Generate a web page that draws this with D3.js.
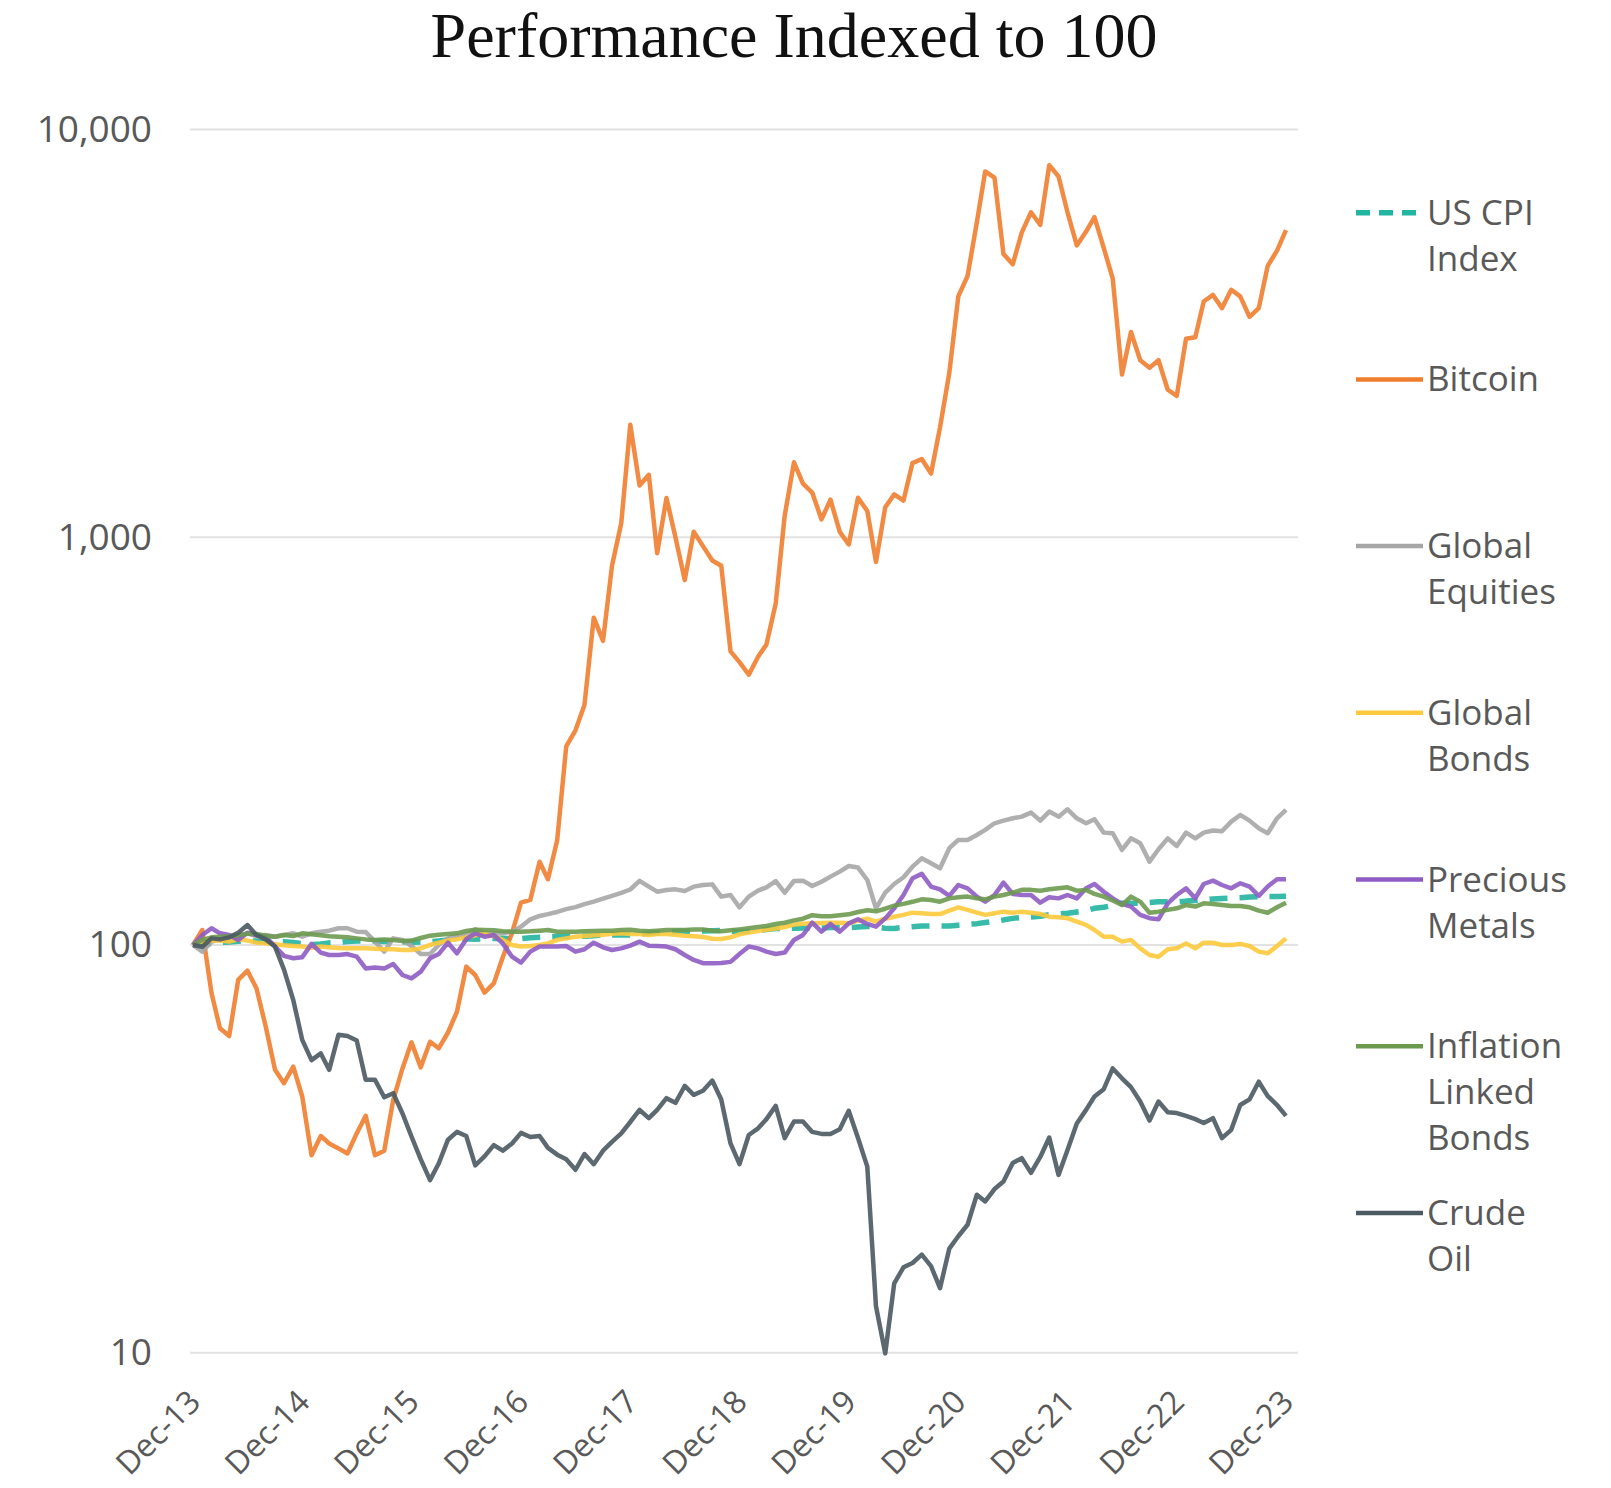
<!DOCTYPE html>
<html>
<head>
<meta charset="utf-8">
<script src="https://cdn.jsdelivr.net/npm/d3@7"></script>
<style>
  body { margin: 0; background: #fff; }
  svg { display: block; }
</style>
</head>
<body>
<svg id="chart" width="1611" height="1488"></svg>
<script>
// Monthly index values, Dec-13 = 100 (121 months, Dec-13 .. Dec-23)
const startMonth = new Date(2013, 11, 1);
const tickLabels = ["Dec-13", "Dec-14", "Dec-15", "Dec-16", "Dec-17", "Dec-18",
  "Dec-19", "Dec-20", "Dec-21", "Dec-22", "Dec-23"];
const yTicks = [10, 100, 1000, 10000];

const usCpi = [
  100.0, 100.4, 100.8, 101.4, 101.7, 102.1, 102.2, 102.2, 102.0, 102.1,
  101.9, 101.4, 100.8, 100.2, 100.6, 101.2, 101.4, 101.9, 102.3, 102.3,
  102.2, 102.0, 101.9, 101.8, 101.5, 101.7, 101.8, 102.3, 102.8, 103.2,
  103.5, 103.3, 103.4, 103.7, 103.8, 103.6, 103.6, 104.2, 104.5, 104.6,
  104.9, 105.0, 105.1, 105.0, 105.3, 105.9, 105.8, 105.8, 105.8, 106.4,
  106.9, 107.1, 107.5, 107.9, 108.1, 108.1, 108.2, 108.3, 108.5, 108.1,
  107.8, 108.0, 108.5, 109.1, 109.7, 109.9, 109.9, 110.1, 110.0, 110.1,
  110.4, 110.3, 110.3, 110.7, 111.0, 110.7, 109.9, 109.8, 110.4, 110.9,
  111.3, 111.4, 111.4, 111.3, 111.8, 112.3, 112.8, 113.5, 114.4, 115.2,
  116.2, 116.8, 117.1, 117.6, 118.6, 119.1, 119.6, 120.5, 121.4, 123.0,
  123.7, 125.0, 126.6, 126.6, 126.5, 127.1, 127.6, 127.7, 127.4, 128.1,
  128.6, 129.0, 129.7, 130.0, 130.3, 130.5, 131.1, 131.4, 131.5, 131.4,
  131.6
];

const bitcoin = [
  100, 108.8, 76.1, 62.5, 59.8, 82.1, 86.5, 78.3, 63.1, 49.4,
  45.8, 50.3, 42.5, 30.5, 34.0, 32.6, 31.7, 30.8, 34.5, 38.1,
  30.5, 31.3, 41.7, 49.8, 57.7, 50.1, 57.9, 55.8, 61.0, 68.6,
  88.5, 84.4, 76.4, 80.5, 93.3, 107, 127, 129, 160, 145,
  181, 307, 336, 388, 635, 557, 851, 1084, 1888, 1340,
  1423, 914, 1248, 1000, 785, 1031, 951, 877, 851, 525,
  494, 460, 509, 546, 688, 1129, 1527, 1353, 1287, 1106,
  1236, 1031, 960, 1250, 1160, 870, 1185, 1274, 1230, 1520,
  1555, 1433, 1860, 2529, 3896, 4373, 5918, 7892, 7624, 4949,
  4672, 5585, 6266, 5833, 8175, 7670, 6266, 5196, 5620, 6094,
  5124, 4311, 2507, 3186, 2717, 2603, 2717, 2300, 2222, 3068,
  3094, 3786, 3929, 3647, 4045, 3896, 3472, 3647, 4631, 5047,
  5666
];

const globalEquities = [
  100, 96.3, 101.9, 102.9, 103.8, 105.2, 106.8, 105.2, 105.8, 104.8,
  105.8, 106.8, 104.8, 106.8, 107.8, 108.4, 109.9, 109.9, 107.8, 107.6,
  101.9, 96.3, 103.8, 102.9, 99.4, 95.0, 95.0, 100, 103.8, 105.2,
  105.8, 109.2, 107.2, 106.8, 106.8, 107.8, 110.9, 115.6, 117.8, 119.0,
  120.5, 122.4, 123.8, 125.9, 127.7, 129.9, 132.0, 134.2, 136.8, 143.6,
  139.0, 135.1, 136.4, 136.9, 135.6, 139.0, 140.3, 140.8, 131.4, 132.6,
  123.7, 131.4, 135.9, 138.5, 143.5, 134.4, 143.5, 143.8, 139.5, 142.9,
  147.1, 151.3, 156.2, 154.8, 144.3, 123.0, 134.4, 141.1, 146.6, 155.6,
  163.1, 158.6, 154.2, 172.7, 181.0, 181.0, 186.1, 191.5, 198.8, 201.8,
  204.5, 206.4, 211.2, 201.8, 212.4, 206.4, 215.1, 204.5, 198.8, 203.3,
  188.6, 187.9, 171.0, 182.6, 177.6, 160.1, 171.7, 182.6, 174.9, 188.6,
  182.6, 188.6, 190.8, 190.0, 200.7, 208.4, 201.8, 193.2, 187.9, 204.5,
  214.4
];

const globalBonds = [
  100, 101.9, 102.5, 102.5, 101.9, 103.2, 102.5, 101.3, 100.9, 100.4,
  99.8, 99.4, 99.1, 98.5, 99.1, 98.7, 98.3, 98.1, 98.1, 98.1,
  97.9, 97.6, 97.6, 97.2, 97.2, 98.1, 100, 101.3, 102.5, 103.2,
  104.4, 105.6, 106.4, 105.2, 102.9, 100, 99.1, 99.4, 100, 100.9,
  102.9, 103.8, 104.8, 105.2, 105.6, 106.0, 106.6, 106.8, 106.4, 106.4,
  105.8, 106.4, 106.4, 106.0, 105.4, 105.0, 104.6, 103.6, 103.4, 104.4,
  106.2, 107.2, 108.2, 109.0, 109.7, 110.7, 112.2, 112.8, 113.0, 113.2,
  113.4, 113.4, 113.0, 114.7, 116.0, 114.1, 116.0, 117.3, 118.5, 120.0,
  119.6, 119.1, 119.1, 121.4, 123.7, 121.9, 120.0, 118.5, 119.6, 120.7,
  120.0, 120.7, 120.0, 119.1, 117.3, 116.9, 116.3, 114.1, 112.0, 108.8,
  104.8, 104.8, 101.9, 102.9, 98.1, 94.5, 93.6, 97.6, 98.1, 100.9,
  98.1, 101.3, 101.3, 100, 100, 100.6, 99.4, 96.3, 95.4, 99.4,
  103.8
];

const preciousMetals = [
  100, 105.8, 109.9, 106.8, 105.8, 102.9, 107.2, 105.8, 104.8, 99.1,
  94.0, 92.8, 93.3, 100.6, 95.8, 94.5, 94.5, 95.0, 93.6, 87.6,
  88.1, 87.6, 89.8, 84.4, 82.8, 86.0, 92.8, 95.0, 101.3, 95.4,
  103.3, 106.8, 104.8, 105.8, 100.9, 93.6, 90.5, 96.3, 99.1, 99.1,
  99.1, 99.4, 96.3, 97.6, 101.3, 98.7, 97.2, 98.1, 99.6, 101.9,
  99.6, 99.4, 99.1, 97.6, 94.5, 91.9, 90.2, 90.2, 90.3, 90.9,
  95.0, 99.1, 98.1, 96.3, 95.0, 95.8, 102.9, 105.8, 113.4, 107.8,
  112.6, 107.8, 113.0, 115.6, 112.6, 110.9, 116.2, 123.0, 132.6, 145.8,
  149.4, 139.1, 136.9, 131.9, 140.3, 137.7, 131.4, 127.7, 132.6, 142.2,
  133.4, 132.6, 132.6, 127.0, 130.9, 130.1, 132.6, 130.1, 137.7, 141.1,
  135.1, 130.1, 126.1, 124.2, 118.5, 116.3, 115.6, 126.5, 132.6, 137.7,
  130.1, 141.1, 143.8, 140.3, 137.7, 141.7, 139.1, 131.9, 139.1, 144.9,
  144.9
];

const inflationLinked = [
  100, 102.9, 104.4, 104.8, 105.0, 105.6, 106.6, 106.4, 105.4, 104.8,
  105.8, 105.2, 106.8, 106.2, 105.6, 105.0, 104.8, 104.4, 103.8, 103.2,
  102.9, 103.2, 102.9, 102.3, 102.5, 104.0, 105.4, 106.0, 106.4, 106.8,
  108.2, 109.0, 108.8, 108.6, 108.0, 107.8, 107.8, 108.0, 108.4, 108.8,
  107.8, 107.8, 107.8, 108.0, 108.2, 108.4, 108.4, 108.8, 109.0, 108.4,
  108.0, 108.4, 108.8, 108.8, 108.8, 109.2, 109.2, 108.4, 108.0, 108.6,
  109.2, 109.9, 110.7, 111.3, 112.6, 113.4, 114.9, 116.0, 118.3, 117.6,
  117.6, 118.2, 118.9, 120.5, 121.6, 120.9, 122.7, 124.9, 126.1, 127.6,
  129.4, 128.9, 127.7, 130.1, 130.9, 131.4, 130.1, 129.4, 131.4, 132.6,
  134.4, 136.5, 136.5, 135.9, 136.9, 137.7, 138.5, 135.9, 136.5, 133.4,
  131.4, 128.5, 125.3, 131.4, 127.7, 120.0, 120.7, 121.9, 123.0, 125.3,
  124.2, 126.5, 126.1, 125.3, 124.6, 124.6, 123.7, 121.4, 120.0, 123.7,
  127.0
];

const crudeOil = [
  100, 99, 103.8, 103.2, 104.4, 107.2, 111.9, 105.8, 103.2, 99.1,
  87, 73.3, 58.5, 52.2, 54.2, 49.4, 60.2, 59.8, 58.3, 46.7,
  46.7, 42.3, 43.3, 38.6, 33.9, 29.8, 26.5, 29.1, 33.3, 34.8,
  34.0, 28.8, 30.3, 32.3, 31.3, 32.6, 34.6, 33.8, 34.0, 31.8,
  30.6, 29.8, 28.1, 30.7, 29.0, 31.3, 32.9, 34.5, 36.8, 39.4,
  37.6, 39.4, 42.1, 41.0, 45.1, 42.9, 43.9, 46.5, 41.8, 32.6,
  29.0, 34.2, 35.5, 37.4, 40.3, 33.6, 36.9, 36.9, 34.8, 34.4,
  34.4, 35.3, 39.2, 33.6, 28.6, 13.0, 9.96, 14.8, 16.2, 16.6,
  17.4, 16.3, 14.4, 18.0, 19.3, 20.6, 24.4, 23.5, 25.2, 26.3,
  29.2, 30.0, 27.6, 30.2, 33.7, 27.3, 31.4, 36.5, 39.4, 42.5,
  44.3, 49.8, 47.1, 44.8, 41.3, 37.1, 41.3, 38.9, 38.7, 38.1,
  37.4, 36.6, 37.6, 33.6, 35.2, 40.5, 41.8, 46.2, 42.6, 40.5,
  38.1
];

const seriesNames = [["US CPI", "Index"], ["Bitcoin"], ["Global", "Equities"],
  ["Global", "Bonds"], ["Precious", "Metals"], ["Inflation", "Linked", "Bonds"],
  ["Crude", "Oil"]];
const seriesValues = [usCpi, bitcoin, globalEquities, globalBonds,
  preciousMetals, inflationLinked, crudeOil];
const seriesColors = ["#22b5a0", "#ef7d2e", "#a6a6a6", "#fec93c",
  "#8e5cc4", "#6b9a4f", "#4a5962"];

function drawChart() {
  const svg = d3.select("#chart");
  const labelFont = "'Open Sans', 'DejaVu Sans', sans-serif";
  const textColor = "#595959";

  const months = usCpi.map((d, i) => d3.timeMonth.offset(startMonth, i));
  const tickDates = tickLabels.map((d, i) => d3.timeMonth.offset(startMonth, i * 12));

  const x = d3.scaleTime()
    .domain([months[0], months[months.length - 1]])
    .range([193, 1286]);

  const y = d3.scaleLog()
    .domain([10, 10000])
    .range([1352.7, 129.5]);

  // Title
  svg.append("text")
    .attr("x", 794)
    .attr("y", 57)
    .attr("text-anchor", "middle")
    .attr("font-family", "'Liberation Serif', 'DejaVu Serif', serif")
    .attr("font-size", "64px")
    .attr("fill", "#111")
    .text("Performance Indexed to 100");

  // Horizontal gridlines
  svg.append("g")
    .selectAll("line")
    .data(yTicks)
    .join("line")
    .attr("x1", 190)
    .attr("x2", 1298)
    .attr("y1", d => y(d))
    .attr("y2", d => y(d))
    .attr("stroke", "#e2e2e2")
    .attr("stroke-width", 2);

  // Y axis labels
  const yAxis = svg.append("g")
    .attr("transform", "translate(190,0)")
    .call(d3.axisLeft(y).tickValues(yTicks).tickFormat(d3.format(",")).tickSize(0).tickPadding(38));
  yAxis.select(".domain").remove();
  yAxis.selectAll("text")
    .attr("font-family", labelFont)
    .attr("font-size", "37px")
    .attr("fill", textColor);

  // X axis labels, rotated
  const xAxis = svg.append("g")
    .attr("transform", `translate(0,${y(10)})`)
    .call(d3.axisBottom(x).tickValues(tickDates).tickFormat((d, i) => tickLabels[i]).tickSize(0));
  xAxis.select(".domain").remove();
  xAxis.selectAll("text")
    .attr("x", 0)
    .attr("y", 0)
    .attr("dy", 0)
    .attr("transform", "translate(9,51) rotate(-45)")
    .attr("text-anchor", "end")
    .attr("font-family", labelFont)
    .attr("font-size", "32px")
    .attr("fill", textColor);

  const line = d3.line()
    .x((d, i) => x(months[i]))
    .y(d => y(d));

  // Series lines
  svg.append("g")
    .attr("fill", "none")
    .selectAll("path")
    .data(seriesValues)
    .join("path")
    .attr("d", d => line(d))
    .attr("stroke", (d, i) => seriesColors[i])
    .attr("stroke-width", (d, i) => i === 0 ? 5.5 : 4.5)
    .attr("stroke-dasharray", (d, i) => i === 0 ? "18,12" : null)
    .attr("stroke-linejoin", "round")
    .attr("stroke-opacity", 0.9);

  // Legend
  const legend = svg.append("g")
    .selectAll("g")
    .data(seriesNames)
    .join("g")
    .attr("transform", (d, i) => `translate(1356,${212.7 + i * 166.7})`);

  legend.append("line")
    .attr("x1", 0)
    .attr("x2", 67)
    .attr("stroke", (d, i) => seriesColors[i])
    .attr("stroke-width", (d, i) => i === 0 ? 5.5 : 4.5)
    .attr("stroke-dasharray", (d, i) => i === 0 ? "14,9" : null);

  legend.append("text")
    .attr("x", 71)
    .attr("y", 12)
    .attr("font-family", labelFont)
    .attr("font-size", "35px")
    .attr("fill", textColor)
    .selectAll("tspan")
    .data(d => d)
    .join("tspan")
    .attr("x", 71)
    .attr("dy", (d, i) => i === 0 ? 0 : 46)
    .text(d => d);
}

drawChart();
</script>
